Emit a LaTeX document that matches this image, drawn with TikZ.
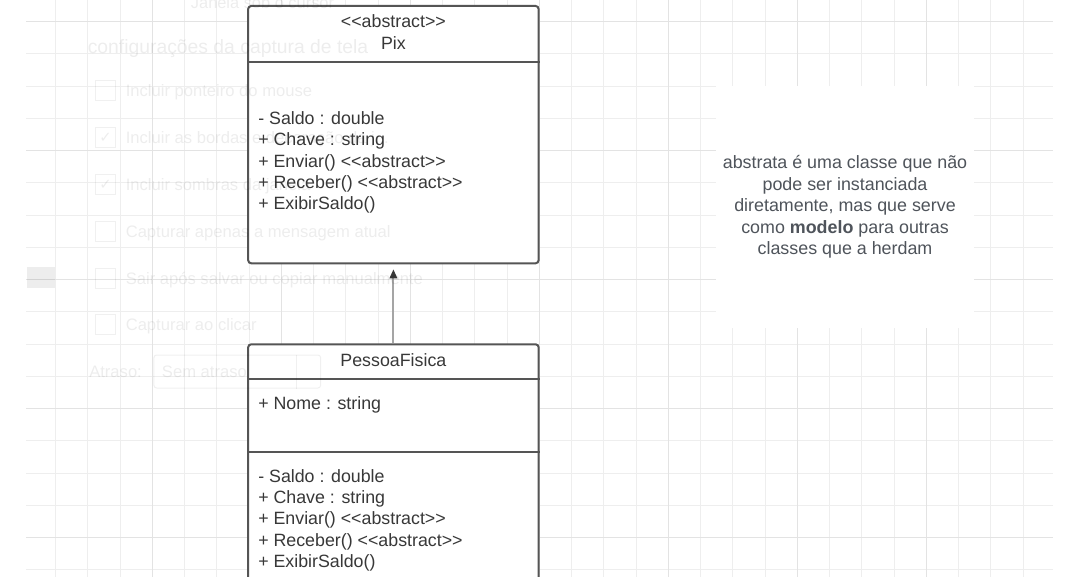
\documentclass[tikz,border=0pt]{standalone}
\usepackage{fontspec}
\setmainfont{Liberation Sans}
\newfontfamily\simbolos{DejaVu Sans}
\usetikzlibrary{arrows.meta,fit,positioning}

\definecolor{umlline}{HTML}{555555}
\definecolor{umltext}{HTML}{383838}
\definecolor{notetext}{HTML}{4F545B}
\definecolor{gridminor}{HTML}{EEEEEE}
\definecolor{gridmajor}{HTML}{E3E3E3}
\definecolor{herancacor}{HTML}{A5A5A5}

% <<abstract>> without the guillemet ligature
\newcommand{\abst}{<\kern0pt<abstract>\kern0pt>}

\tikzset{
  grade/.style={draw=gridminor, line width=0.75pt},
  grademaior/.style={draw=gridmajor, line width=1pt},
  classe/.style={draw=umlline, line width=1.5pt, fill=white, rounded corners=2.25pt, inner sep=0pt},
  divisor/.style={draw=umlline, line width=1.5pt},
  membro/.style={anchor=base west, inner sep=0pt, text=umltext, font=\fontsize{13.35}{16}\selectfont},
  titulo/.style={anchor=base, inner sep=0pt, text=umltext, font=\fontsize{13.35}{16}\selectfont},
  nota/.style={fill=white, align=center, text=notetext, inner sep=0pt, font=\fontsize{13.4}{16.2}\selectfont},
  heranca/.style={draw=herancacor, line width=1.5pt, shorten >=3.75pt, -{Triangle[length=6.75pt, width=5.5pt, color=umltext]}},
  fantasma/.style={text=black, text opacity=0.07, anchor=base west, inner sep=0pt, font=\fontsize{12.45}{15}\selectfont},
  caixinha/.style={draw=black, draw opacity=0.06, line width=0.75pt, minimum size=15pt, inner sep=0pt},
}

\begin{document}
\begin{tikzpicture}[x=0.75pt, y=-0.75pt]
    \useasboundingbox (0,0) rectangle (1080,577);
    \clip (0,0) rectangle (1080,577);
    \fill[white] (0,0) rectangle (1080,577);

    % Grid of the canvas
    \def\passo{32.25}
    \foreach \k in {1,...,31} \draw[grade] ({23.3+\passo*\k},0) -- ({23.3+\passo*\k},577);
    \foreach \k in {0,...,17} \draw[grade] (26,{21.7+\passo*\k}) -- (1053,{21.7+\passo*\k});
    \foreach \k in {4,8,...,28} \draw[grademaior] ({23.3+\passo*\k},0) -- ({23.3+\passo*\k},577);
    \foreach \k in {0,4,...,16} \draw[grademaior] (26,{21.7+\passo*\k}) -- (1053,{21.7+\passo*\k});

    % Class Pix
    \def\xm{258}
    \node[classe, fit={(248.2,6) (538.6,263.3)}] (pix) {};
    \draw[divisor] (pix.west |- 0,62) -- (pix.east |- 0,62);
    \node[titulo] (pixest) at (393.4,27.7) {\abst};
    \node[titulo] (pixnome) at (393.4,49.5) {Pix};
    \foreach \txt [count=\i] in {- Saldo : double, + Chave : string, + Enviar() \abst, + Receber() \abst, + ExibirSaldo()}
      \node[membro] (pixm\i) at (\xm,{124.3+21.4*(\i-1)}) {\txt};

    % Class PessoaFisica (runs past the lower edge)
    \node[classe, fit={(248.2,344.3) (538.6,640)}] (pf) {};
    \draw[divisor] (pf.west |- 0,379.3) -- (pf.east |- 0,379.3);
    \draw[divisor] (pf.west |- 0,452.3) -- (pf.east |- 0,452.3);
    \node[titulo] (pfnome) at (393.4,366) {PessoaFisica};
    \node[membro] (pfa1) at (\xm,409.3) {+ Nome : string};
    \foreach \txt [count=\i] in {- Saldo : double, + Chave : string, + Enviar() \abst, + Receber() \abst, + ExibirSaldo()}
      \node[membro] (pfm\i) at (\xm,{482+21.4*(\i-1)}) {\txt};

    % Inheritance
    \draw[heranca] (pf.north) -- (pix.south);

    % Note
    \node[nota, minimum width=193.5pt, minimum height=181.5pt] (nota) at (845,207)
      {abstrata é uma classe que não\\pode ser instanciada\\diretamente, mas que serve\\como \textbf{modelo} para outras\\classes que a herdam};

    % Ghost of the screenshot dialog on top
    \fill[black, opacity=0.07] (27,267) rectangle (55,288);
    \node[fantasma, anchor=base, font=\fontsize{12.3}{15}\selectfont] (gjanela) at (262.5,9) {Janela sob o cursor};
    \node[fantasma, font=\fontsize{14.5}{17}\selectfont] (gconfig) at (87.5,53.5) {configurações da captura de tela};
    \foreach \txt [count=\i] in {Incluir ponteiro do mouse, {Incluir as bordas e decoração da j.\kern0pt.\kern0pt.}, Incluir sombras da janela, Capturar apenas a mensagem atual, Sair após salvar ou copiar manualmente, Capturar ao clicar} {
      \node[caixinha] (gcx\i) at (105.5,{90.7+46.85*(\i-1)}) {};
      \node[fantasma] (gop\i) at (125.5,{96.7+46.85*(\i-1)}) {\txt};
    }
    \node[fantasma, anchor=center, font=\simbolos\fontsize{11}{13}\selectfont] (gv2) at (gcx2) {✓};
    \node[fantasma, anchor=center, font=\simbolos\fontsize{11}{13}\selectfont] (gv3) at (gcx3) {✓};
    \node[fantasma] (gatraso) at (89,377.7) {Atraso:};
    \node[caixinha, rounded corners=2pt, minimum width=125pt, minimum height=24.75pt] (gcombo) at (237.3,371.5) {};
    \node[fantasma] (gsem) at (161.7,377.7) {Sem atraso};
    \draw[black, draw opacity=0.06, line width=0.75pt] (gcombo.north -| 296,0) -- (gcombo.south -| 296,0);
\end{tikzpicture}
\end{document}
